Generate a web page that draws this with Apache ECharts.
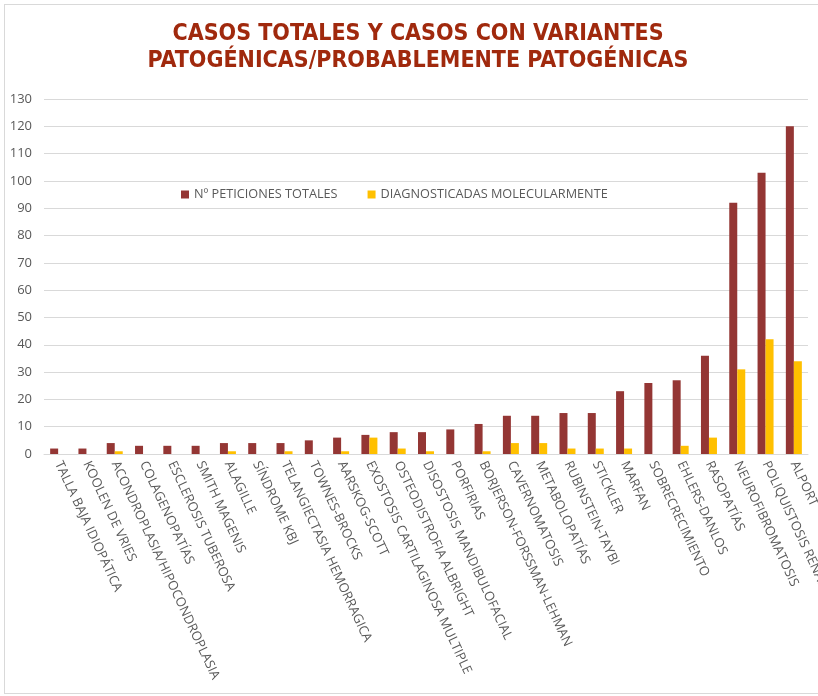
<!DOCTYPE html>
<html>
<head>
<meta charset="utf-8">
<script src="https://cdn.jsdelivr.net/npm/echarts@6/dist/echarts.min.js"></script>
<style>
  html, body { margin: 0; padding: 0; background: #fff; overflow: hidden; }
  #main { position: absolute; left: 0; top: 0; width: 818px; height: 696px; }
  #marco { position: absolute; left: 4px; top: 4px; width: 830px; height: 688px; border: 1px solid #d9d9d9; pointer-events: none; }
</style>
</head>
<body>
<div id="main"></div>
<div id="marco"></div>
<script>
// datos
const categorias = [
  'TALLA BAJA IDIOPÁTICA', 'KOOLEN DE VRIES', 'ACONDROPLASIA/HIPOCONDROPLASIA', 'COLAGENOPATÍAS',
  'ESCLEROSIS TUBEROSA', 'SMITH MAGENIS', 'ALAGILLE', 'SÍNDROME KBJ', 'TELANGIECTASIA HEMORRAGICA',
  'TOWNES-BROCKS', 'AARSKOG-SCOTT', 'EXOSTOSIS CARTILAGINOSA MULTIPLE', 'OSTEODISTROFIA ALBRIGHT',
  'DISOSTOSIS MANDIBULOFACIAL', 'PORFIRIAS', 'BORJERSON-FORSSMAN-LEHMAN', 'CAVERNOMATOSIS',
  'METABOLOPATÍAS', 'RUBINSTEIN-TAYBI', 'STICKLER', 'MARFAN', 'SOBRECRECIMIENTO', 'EHLERS-DANLOS',
  'RASOPATÍAS', 'NEUROFIBROMATOSIS', 'POLIQUISTOSIS RENAL', 'ALPORT'
]
const peticiones = [2, 2, 4, 3, 3, 3, 4, 4, 4, 5, 6, 7, 8, 8, 9, 11, 14, 14, 15, 15, 23, 26, 27, 36, 92, 103, 120]
const diagnosticadas = [0, 0, 1, 0, 0, 0, 1, 0, 1, 0, 1, 6, 2, 1, 0, 1, 4, 4, 2, 2, 2, 0, 3, 6, 31, 42, 34]

let chart = echarts.init(document.getElementById('main'))
chart.setOption({
  animation: false,
  title: {
    text: 'CASOS TOTALES Y CASOS CON VARIANTES\nPATOGÉNICAS/PROBABLEMENTE PATOGÉNICAS',
    left: 413,
    top: 16,
    textAlign: 'center',
    textStyle: {
      fontFamily: "'DejaVu Sans Condensed', 'DejaVu Sans', sans-serif",
      fontWeight: 'bold',
      fontSize: 23,
      lineHeight: 27,
      color: '#A0290D'
    }
  },
  legend: {
    left: 176,
    top: 183,
    itemWidth: 8,
    itemHeight: 8,
    itemGap: 30,
    icon: 'rect',
    textStyle: { color: '#595959', fontSize: 12.7, fontFamily: 'Open Sans' },
    data: ['Nº PETICIONES TOTALES', 'DIAGNOSTICADAS MOLECULARMENTE']
  },
  grid: {
    left: 44,
    right: 10,
    top: 99,
    bottom: 242,
    containLabel: false,
    outerBoundsMode: 'none'
  },
  xAxis: {
    type: 'category',
    data: categorias,
    axisTick: { show: false },
    axisLine: { lineStyle: { color: '#d9d9d9' } },
    axisLabel: {
      interval: 0,
      rotate: -65,
      margin: 8,
      color: '#595959',
      fontSize: 13,
      fontFamily: 'Open Sans'
    }
  },
  yAxis: {
    type: 'value',
    min: 0,
    max: 130,
    interval: 10,
    axisLine: { show: false },
    axisTick: { show: false },
    splitLine: { lineStyle: { color: '#d9d9d9' } },
    axisLabel: { color: '#595959', fontSize: 13, fontFamily: 'Open Sans', margin: 12 }
  },
  series: [
    {
      name: 'Nº PETICIONES TOTALES',
      type: 'bar',
      data: peticiones,
      barWidth: 8,
      barGap: '0%',
      itemStyle: { color: '#943634' }
    },
    {
      name: 'DIAGNOSTICADAS MOLECULARMENTE',
      type: 'bar',
      data: diagnosticadas,
      barWidth: 8,
      itemStyle: { color: '#FFC000' }
    }
  ]
})
</script>
</body>
</html>
